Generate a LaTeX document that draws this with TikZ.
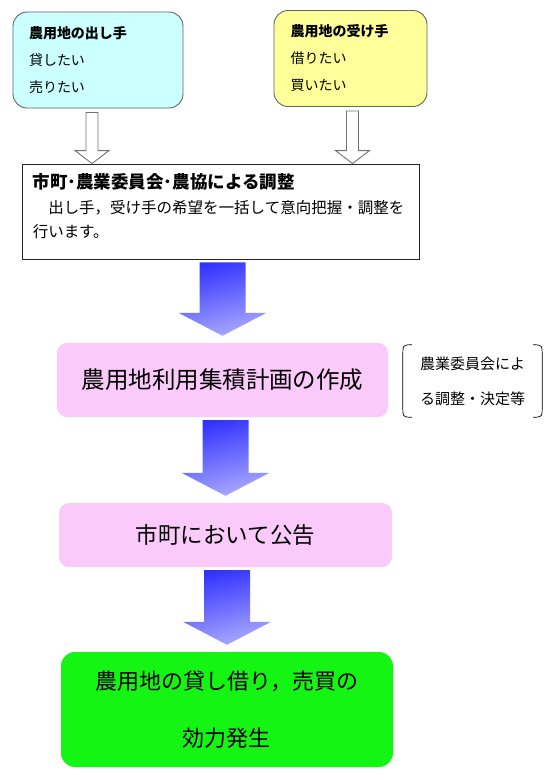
\documentclass[tikz,border=0pt]{standalone}
\usepackage{fontspec}
\setmainfont{Noto Sans CJK JP}
\usepackage{tikz}
\usetikzlibrary{calc}

\definecolor{giverfill}{RGB}{204,255,255}
\definecolor{takerfill}{RGB}{255,255,153}
\definecolor{boxedge}{RGB}{90,105,100}
\definecolor{planfill}{RGB}{250,202,250}
\definecolor{effectfill}{RGB}{20,245,20}
\definecolor{flowtop}{RGB}{50,50,255}
\definecolor{flowbottom}{RGB}{170,170,255}

% hollow arrow from (point) down to the top of a node
\newcommand{\hollowarrow}[2]{%
  \draw[hollow] let \p1=(#1), \p2=(#2.north) in
    (\x1-6pt,\y1-4pt) -- (\x1+6pt,\y1-4pt) -- (\x1+6pt,\y2+13pt)
    -- (\x1+17pt,\y2+13pt) -- (\x1,\y2) -- (\x1-17pt,\y2+13pt)
    -- (\x1-6pt,\y2+13pt) -- cycle;}

% shaded arrow between two nodes
\newcommand{\flowarrow}[2]{%
  \path[flow] let \p1=(#1.south), \p2=(#2.north) in
    (\x2-23pt,\y1-3pt) -- (\x2+23pt,\y1-3pt) -- (\x2+23pt,\y2+30pt)
    -- (\x2+44pt,\y2+30pt) -- (\x2,\y2+7pt) -- (\x2-44pt,\y2+30pt)
    -- (\x2-23pt,\y2+30pt) -- cycle;}

\begin{document}
\begin{tikzpicture}[x=1pt,y=-1pt]

      \tikzstyle{every node}=[inner sep=0pt]
      \tikzstyle{wishbox}=[draw=boxedge,line width=0.9pt,rounded corners=14pt,
                           align=left,minimum height=96pt,
                           font=\fontsize{14}{27}\selectfont]
      \tikzstyle{stagebox}=[fill=planfill,rounded corners=10pt,
                            font=\fontsize{22.5}{30}\selectfont]
      \tikzstyle{hollow}=[draw=black!55,fill=white,line width=0.9pt]
      \tikzstyle{flow}=[top color=flowtop,bottom color=flowbottom,
                        shading angle=15]

      \useasboundingbox (0,0) rectangle (560,780);

      \node[wishbox,fill=giverfill,text width=138pt,inner xsep=16pt]
          (giver) at (98,60)
          {\textbf{農用地の出し手}\\貸したい\\売りたい};
      \node[wishbox,fill=takerfill,text width=120pt,inner xsep=16.5pt]
          (taker) at (350.5,58.5)
          {\textbf{農用地の受け手}\\借りたい\\買いたい};

      \node[draw=black!85,line width=0.9pt,minimum width=397pt,
            minimum height=95pt] (coord) at (220.5,211.5) {};
      \node[anchor=north west,align=left,font=\fontsize{15.5}{24.5}\selectfont]
          (coordtxt) at ([xshift=11pt,yshift=-10pt]coord.north west)
          {{\fontsize{17.5}{24.5}\selectfont\textbf{市町･農業委員会･農協による調整}}\\
           　出し手，受け手の希望を一括して意向把握・調整を\\
           行います。};

      \hollowarrow{[xshift=-6pt]giver.south}{coord}
      \hollowarrow{[xshift=2pt]taker.south}{coord}

      \node[stagebox,minimum width=331pt,minimum height=74pt,
            font=\fontsize{23.5}{30}\selectfont]
          (plan) at (222.5,380) {農用地利用集積計画の作成};
      \node[align=center,minimum width=139pt,minimum height=72pt,
            font=\fontsize{15}{35}\selectfont]
          (note) at (472.5,381) {農業委員会によ\\る調整・決定等};
      \draw[line width=0.7pt] ([xshift=9pt]note.north west)
          .. controls (note.north west) .. ([yshift=-12pt]note.north west)
          -- ([yshift=12pt]note.south west)
          .. controls (note.south west) .. ([xshift=9pt]note.south west);
      \draw[line width=0.7pt] ([xshift=-9pt]note.north east)
          .. controls (note.north east) .. ([yshift=-12pt]note.north east)
          -- ([yshift=12pt]note.south east)
          .. controls (note.south east) .. ([xshift=-9pt]note.south east);

      \node[stagebox,minimum width=333pt,minimum height=64pt]
          (notice) at (225.5,535) {市町において公告};

      \node[stagebox,fill=effectfill,rounded corners=14pt,align=center,
            minimum width=332pt,minimum height=115pt,
            font=\fontsize{22}{57}\selectfont]
          (effect) at (227,709.5) {農用地の貸し借り，売買の\\効力発生};

      \flowarrow{coord}{plan}
      \flowarrow{plan}{notice}
      \flowarrow{notice}{effect}

    \end{tikzpicture}
\end{document}
